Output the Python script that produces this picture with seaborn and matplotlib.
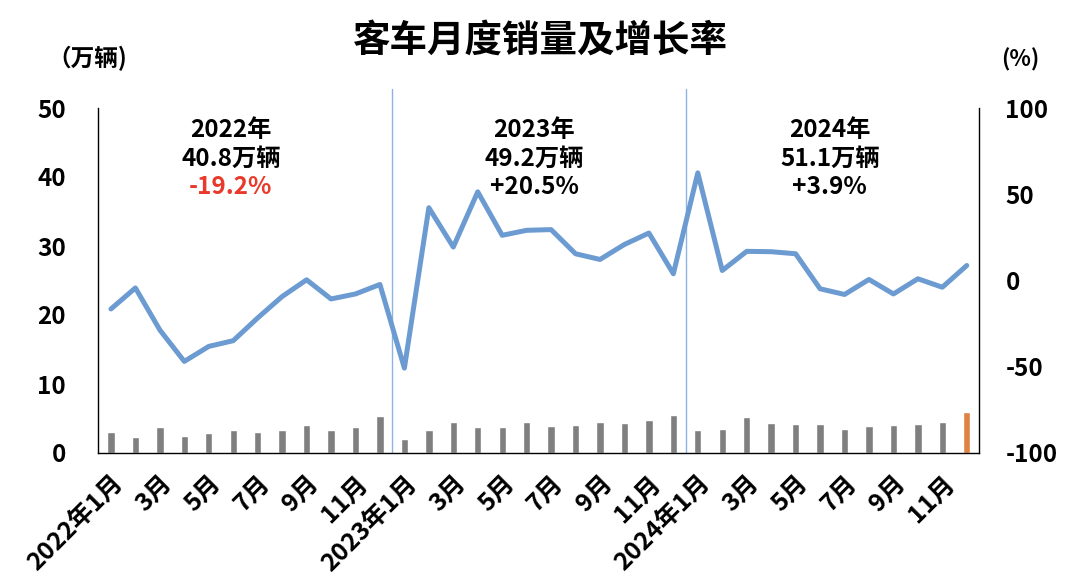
import numpy as np
import pandas as pd
import matplotlib
matplotlib.use("Agg")
import matplotlib.pyplot as plt
import seaborn as sns

# ---------------- data ----------------
months_2022 = ["2022年1月", "2022年2月", "2022年3月", "2022年4月", "2022年5月", "2022年6月",
               "2022年7月", "2022年8月", "2022年9月", "2022年10月", "2022年11月", "2022年12月"]
months_2023 = ["2023年1月", "2023年2月", "2023年3月", "2023年4月", "2023年5月", "2023年6月",
               "2023年7月", "2023年8月", "2023年9月", "2023年10月", "2023年11月", "2023年12月"]
months_2024 = ["2024年1月", "2024年2月", "2024年3月", "2024年4月", "2024年5月", "2024年6月",
               "2024年7月", "2024年8月", "2024年9月", "2024年10月", "2024年11月", "2024年12月"]

sales_2022 = [3.0, 2.3, 3.8, 2.5, 2.9, 3.4, 3.0, 3.4, 4.0, 3.4, 3.7, 5.3]
sales_2023 = [2.1, 3.3, 4.5, 3.8, 3.7, 4.5, 3.9, 4.0, 4.5, 4.3, 4.8, 5.5]
sales_2024 = [3.4, 3.5, 5.2, 4.4, 4.2, 4.2, 3.5, 3.9, 4.1, 4.2, 4.5, 6.0]

growth_2022 = [-16.5, -4.3, -28.7, -46.9, -38.2, -34.9, -21.7, -9.3, 0.4, -10.7, -7.8, -2.3]
growth_2023 = [-50.8, 42.2, 19.4, 51.4, 26.2, 29.1, 29.5, 15.5, 12.2, 20.9, 27.5, 3.9]
growth_2024 = [62.4, 5.8, 16.9, 16.7, 15.5, -4.8, -8.1, 0.6, -7.8, 1.0, -3.9, 8.7]

tick_labels = ["2022年1月", "3月", "5月", "7月", "9月", "11月",
               "2023年1月", "3月", "5月", "7月", "9月", "11月",
               "2024年1月", "3月", "5月", "7月", "9月", "11月"]

year_titles = ["2022年", "2023年", "2024年"]
year_totals = ["40.8万辆", "49.2万辆", "51.1万辆"]
year_growth = ["-19.2%", "+20.5%", "+3.9%"]

left_ticks = [0, 10, 20, 30, 40, 50]
right_ticks = [-100, -50, 0, 50, 100]

# ---------------- style ----------------
sns.set_theme(style="white")
plt.rcParams["font.family"] = ["Noto Sans CJK SC", "DejaVu Sans"]
plt.rcParams["font.weight"] = "bold"

W = "bold"
BAR_GREY = "#7F7F7F"
BAR_ORANGE = "#DF8344"
LINE_BLUE = "#6C9BD2"
RED = "#E8392B"
VLINE = "#8DB3E2"

months = months_2022 + months_2023 + months_2024
sales = sales_2022 + sales_2023 + sales_2024
growth = growth_2022 + growth_2023 + growth_2024
kind = ["normal"] * (len(months) - 1) + ["latest"]

df = pd.DataFrame({"month": months, "sales": sales, "growth": growth, "kind": kind})
df["pos"] = np.arange(len(df))

fig = plt.figure(figsize=(10.8, 5.82), dpi=100)
ax = fig.add_axes([98 / 1080, 1 - 453 / 582, (979 - 98) / 1080, (453 - 108) / 582])

sns.barplot(data=df, x="month", y="sales", hue="kind",
            palette={"normal": BAR_GREY, "latest": BAR_ORANGE},
            dodge=False, width=0.3, legend=False, ax=ax, saturation=1)

ax2 = ax.twinx()
sns.lineplot(data=df, x="pos", y="growth", ax=ax2, color=LINE_BLUE, linewidth=3.6)

ax.set_xlim(-0.53, 35.5)
ax.set_ylim(0, 50)
ax2.set_ylim(-100, 100)

# year separators
for xv in (11.5, 23.5):
    ax.axvline(xv, ymin=0, ymax=1.055, color=VLINE, lw=1.0, clip_on=False, zorder=0)

# axes formatting
ax.set_xlabel("")
ax.set_ylabel("")
ax2.set_xlabel("")
ax2.set_ylabel("")
ax.set_yticks(left_ticks)
ax.set_yticklabels([str(v) for v in left_ticks], fontsize=17.5, fontweight=W)
ax2.set_yticks(right_ticks)
ax2.set_yticklabels([str(v) for v in right_ticks], fontsize=17.5, fontweight=W)
ax.tick_params(axis="y", length=0, pad=23, colors="black")
ax2.tick_params(axis="y", length=0, pad=19, colors="black")

ax.set_xticks(np.arange(0, 36, 2))
ax.set_xticklabels(tick_labels, rotation=45, ha="right", va="top",
                   rotation_mode="anchor", fontsize=18, fontweight=W)
ax.tick_params(axis="x", length=0, pad=13, colors="black")

for a in (ax, ax2):
    a.spines["top"].set_visible(False)
    for s in ("left", "right", "bottom"):
        a.spines[s].set_color("black")
        a.spines[s].set_linewidth(1.0)
ax.spines["right"].set_visible(False)
ax2.spines["left"].set_visible(False)
ax2.spines["bottom"].set_visible(False)
ax.grid(False)
ax2.grid(False)

# year annotations
x_centers = [4.9, 17.3, 29.4]
for i, xc in enumerate(x_centers):
    ax.text(xc, 46.8, year_titles[i], ha="center", va="center", fontsize=17.5, fontweight=W, color="black")
    ax.text(xc, 42.6, year_totals[i], ha="center", va="center", fontsize=17.5, fontweight=W, color="black")
    ax.text(xc, 38.5, year_growth[i], ha="center", va="center", fontsize=17.5, fontweight=W,
            color=RED if year_growth[i].startswith("-") else "black")

# titles and unit labels
fig.text(0.5, 1 - 40 / 582, "客车月度销量及增长率", ha="center", va="center",
         fontsize=27, fontweight="black", color="black")
fig.text(87 / 1080, 1 - 58 / 582, "（万辆)", ha="center", va="center",
         fontsize=17, fontweight=W, color="black")
fig.text(1020 / 1080, 1 - 60 / 582, "(%)", ha="center", va="center",
         fontsize=16, fontweight=W, color="black")

fig.savefig("out.png", dpi=100, facecolor="white")
